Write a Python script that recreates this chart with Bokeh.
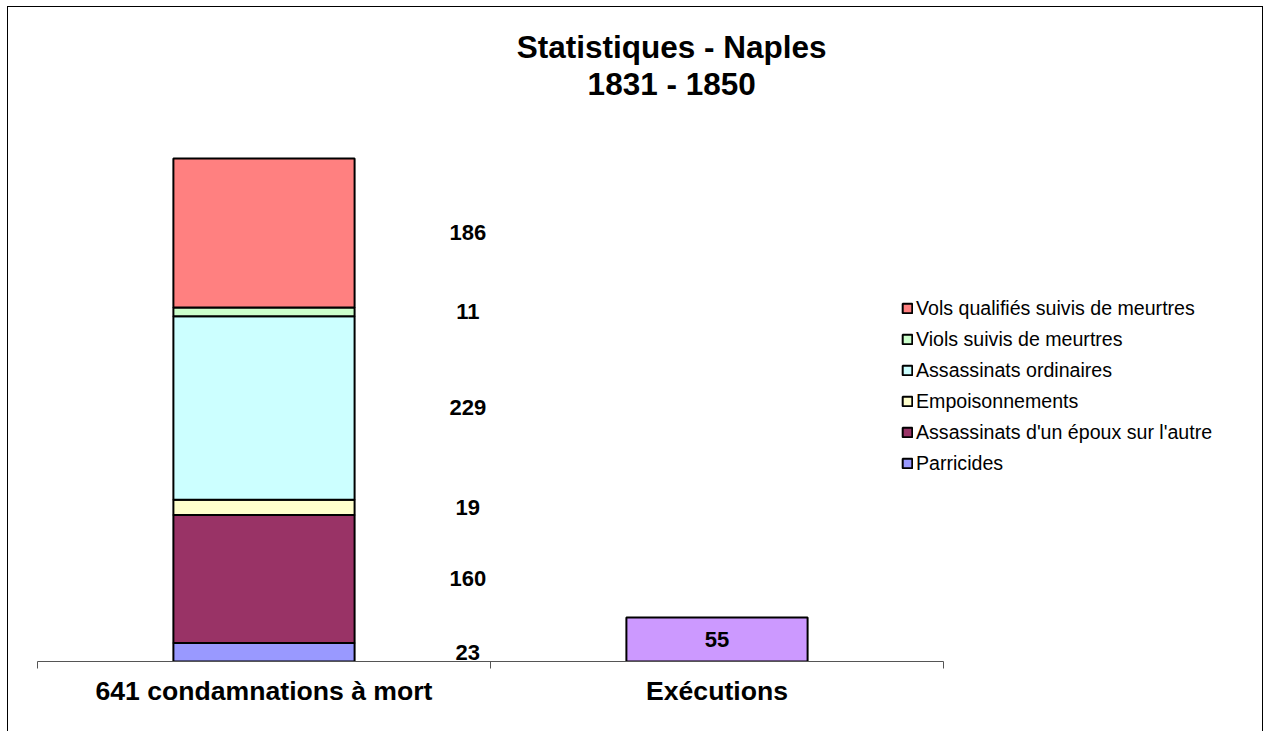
import numpy as np
from bokeh.plotting import figure
from bokeh.models import ColumnDataSource, Range1d, FixedTicker, Legend, LegendItem, LinearAxis
from bokeh.core.properties import value
from bokeh.embed import file_html
from bokeh.resources import INLINE

# ---------------- data ----------------
title_text = "Statistiques - Naples\n1831 - 1850"
categories = ["641 condamnations à mort", "Exécutions"]
crime_types = [
    "Parricides",
    "Assassinats d'un époux sur l'autre",
    "Empoisonnements",
    "Assassinats ordinaires",
    "Viols suivis de meurtres",
    "Vols qualifiés suivis de meurtres",
]
condamnations = [23, 160, 19, 229, 11, 186]
executions = [55]
crime_colors = ["#9999FF", "#993366", "#FFFFCC", "#CCFFFF", "#CCFFCC", "#FF8080"]
exec_color = "#CC99FF"

FONT = "Liberation Sans"
W, H = 1254, 724

p = figure(width=W, height=H, output_backend="svg", toolbar_location=None,
           title=None,
           x_range=Range1d(-0.064, 2.7042), y_range=Range1d(0, 816.5),
           x_axis_location=None, y_axis_location=None,
           min_border_left=0, min_border_right=0, min_border_top=0,
           min_border_bottom=70)
p.xgrid.visible = False
p.ygrid.visible = False
p.outline_line_color = None
p.background_fill_color = "white"
p.border_fill_color = "white"
p.styles = {"outline": "1px solid #000000", "margin-left": "8px", "margin-top": "7px"}

# x axis with category boundaries as ticks
xaxis = LinearAxis(ticker=FixedTicker(ticks=[0.5, 1.5], minor_ticks=[0, 1, 2]),
                   bounds=(0, 2))
xaxis.major_label_overrides = {0.5: categories[0], 1.5: categories[1]}
xaxis.axis_line_color = "#555555"
xaxis.axis_line_width = 1
xaxis.major_tick_line_color = None
xaxis.major_tick_out = 0
xaxis.major_tick_in = 0
xaxis.minor_tick_line_color = "#555555"
xaxis.minor_tick_out = 7
xaxis.minor_tick_in = 0
xaxis.major_label_standoff = 7
xaxis.major_label_text_font = FONT
xaxis.major_label_text_font_style = "bold"
xaxis.major_label_text_font_size = "26.6px"
xaxis.major_label_text_color = "black"
p.add_layout(xaxis, "below")

# stacked bar (condamnations)
vals = np.array(condamnations, dtype=float)
tops = np.cumsum(vals)
bottoms = tops - vals
renderers = []
for i, name in enumerate(crime_types):
    src = ColumnDataSource(dict(x=[0.5], bottom=[bottoms[i]], top=[tops[i]]))
    r = p.vbar(x="x", bottom="bottom", top="top", width=0.4, source=src,
               fill_color=crime_colors[i], line_color="black", line_width=2)
    renderers.append(r)

# executions bar
esrc = ColumnDataSource(dict(x=[1.5], top=executions))
p.vbar(x="x", bottom=0, top="top", width=0.4, source=esrc,
       fill_color=exec_color, line_color="black", line_width=2)

# value labels
lsrc = ColumnDataSource(dict(x=[0.95] * len(vals), y=list((bottoms + tops) / 2),
                             t=[str(int(v)) for v in vals]))
p.text(x="x", y="y", text="t", source=lsrc, text_align="center",
       text_baseline="middle", text_font=value(FONT), text_font_style="bold",
       text_font_size="22px", text_color="black")
esl = ColumnDataSource(dict(x=[1.5], y=[executions[0] / 2], t=[str(executions[0])]))
p.text(x="x", y="y", text="t", source=esl, text_align="center",
       text_baseline="middle", text_font=value(FONT), text_font_style="bold",
       text_font_size="22px", text_color="black")

# title
tsrc = ColumnDataSource(dict(x=[1.4], y=[789.7], t=[title_text]))
p.text(x="x", y="y", text="t", source=tsrc, text_align="center",
       text_baseline="top", text_font=value(FONT), text_font_style="bold",
       text_font_size="31.5px", text_color="black", text_line_height=1.02)

# legend
items = [LegendItem(label=crime_types[i], renderers=[renderers[i]])
         for i in reversed(range(len(crime_types)))]
legend = Legend(items=items, location=(893, 186.5), orientation="vertical",
                glyph_width=12, glyph_height=12, label_standoff=3,
                label_height=22, spacing=8, padding=0, margin=0,
                border_line_color=None, background_fill_alpha=0,
                label_text_font=FONT, label_text_font_size="19.6px",
                label_text_color="black")
p.add_layout(legend, "center")

open("out.html", "w").write(file_html(p, INLINE))
